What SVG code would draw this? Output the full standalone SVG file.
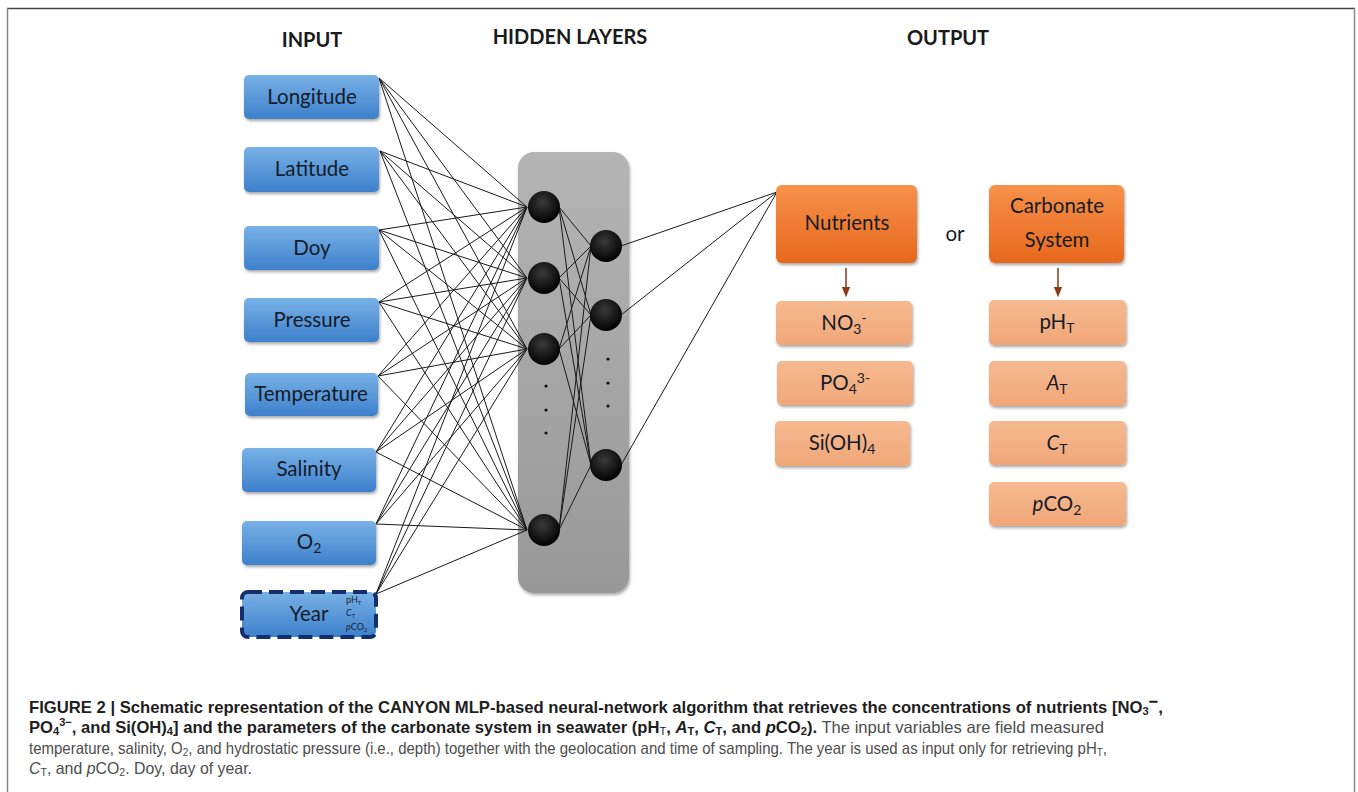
<svg xmlns="http://www.w3.org/2000/svg" width="1358" height="792" viewBox="0 0 1358 792">
<defs>
<linearGradient id="gBlue" x1="0" y1="0" x2="0" y2="1"><stop offset="0" stop-color="#78b1e6"/><stop offset="1" stop-color="#3d80cc"/></linearGradient>
<linearGradient id="gOrange" x1="0" y1="0" x2="0" y2="1"><stop offset="0" stop-color="#f6914a"/><stop offset="1" stop-color="#e8681c"/></linearGradient>
<linearGradient id="gPeach" x1="0" y1="0" x2="0" y2="1"><stop offset="0" stop-color="#f6b990"/><stop offset="1" stop-color="#f0a778"/></linearGradient>
<linearGradient id="gGray" x1="0" y1="0" x2="0" y2="1"><stop offset="0" stop-color="#b4b4b4"/><stop offset="1" stop-color="#989898"/></linearGradient>
<radialGradient id="gNode" cx="0.45" cy="0.35" r="0.65"><stop offset="0" stop-color="#3a3a3a"/><stop offset="1" stop-color="#000"/></radialGradient>
<filter id="sh" x="-10%" y="-10%" width="125%" height="135%"><feDropShadow dx="1" dy="2" stdDeviation="1.5" flood-color="#000" flood-opacity="0.35"/></filter>
<marker id="arr" viewBox="0 0 10 10" refX="5" refY="5" markerWidth="7" markerHeight="7" orient="auto"><path d="M0,1 L10,5 L0,9 z" fill="#8b3a14"/></marker>
</defs>
<style>
.frameT{stroke:#444;stroke-width:1.5}
.frameS{stroke:#888;stroke-width:1.5}
.hdr{font-family:Lato,"Open Sans",sans-serif;font-weight:bold;font-size:20px;fill:#1a1a1a;text-anchor:middle}
.inbox{fill:url(#gBlue);filter:url(#sh)}
.lbl{font-family:Lato,"Open Sans",sans-serif;font-size:20.5px;fill:#151c29;text-anchor:middle}
.obox{fill:url(#gOrange);filter:url(#sh)}
.pbox{fill:url(#gPeach);filter:url(#sh)}
.conn line{stroke:#1a1a1a;stroke-width:1}
.node{fill:url(#gNode)}
.dot{fill:#111}
.cap{font-family:"Liberation Sans",Arial,sans-serif;font-size:16.5px}
.b{font-weight:bold;fill:#1e1e1e}
.r{fill:#4d4d4d}
</style>
<rect width="1358" height="792" fill="#fff"/>
<line class="frameT" x1="7" y1="8.5" x2="1355" y2="8.5"/>
<line class="frameS" x1="7.5" y1="8" x2="7.5" y2="792"/>
<line class="frameS" x1="1354.5" y1="8" x2="1354.5" y2="792"/>

<text class="hdr" x="312" y="47">INPUT</text>
<text class="hdr" x="570" y="44">HIDDEN LAYERS</text>
<text class="hdr" x="948" y="45">OUTPUT</text>

<g id="hidden-panel"><rect x="518" y="152" width="111" height="441" rx="16" fill="url(#gGray)" filter="url(#sh)"/></g>

<g id="connectors" class="conn">
<line x1="379" y1="78" x2="527" y2="207"/><line x1="379" y1="78" x2="527" y2="278"/><line x1="379" y1="78" x2="527" y2="349"/><line x1="379" y1="78" x2="527" y2="530"/>
<line x1="380" y1="151" x2="527" y2="207"/><line x1="380" y1="151" x2="527" y2="278"/><line x1="380" y1="151" x2="527" y2="349"/><line x1="380" y1="151" x2="527" y2="530"/>
<line x1="379" y1="230" x2="527" y2="207"/><line x1="379" y1="230" x2="527" y2="278"/><line x1="379" y1="230" x2="527" y2="349"/><line x1="379" y1="230" x2="527" y2="530"/>
<line x1="379" y1="302" x2="527" y2="207"/><line x1="379" y1="302" x2="527" y2="278"/><line x1="379" y1="302" x2="527" y2="349"/><line x1="379" y1="302" x2="527" y2="530"/>
<line x1="378" y1="376" x2="527" y2="207"/><line x1="378" y1="376" x2="527" y2="278"/><line x1="378" y1="376" x2="527" y2="349"/><line x1="378" y1="376" x2="527" y2="530"/>
<line x1="376" y1="452" x2="527" y2="207"/><line x1="376" y1="452" x2="527" y2="278"/><line x1="376" y1="452" x2="527" y2="349"/><line x1="376" y1="452" x2="527" y2="530"/>
<line x1="376" y1="524" x2="527" y2="207"/><line x1="376" y1="524" x2="527" y2="278"/><line x1="376" y1="524" x2="527" y2="349"/><line x1="376" y1="524" x2="527" y2="530"/>
<line x1="376" y1="594" x2="527" y2="207"/><line x1="376" y1="594" x2="527" y2="278"/><line x1="376" y1="594" x2="527" y2="349"/><line x1="376" y1="594" x2="527" y2="530"/>
<line x1="559" y1="207" x2="591" y2="246"/><line x1="559" y1="207" x2="591" y2="315"/><line x1="559" y1="207" x2="591" y2="465"/>
<line x1="559" y1="278" x2="591" y2="246"/><line x1="559" y1="278" x2="591" y2="315"/><line x1="559" y1="278" x2="591" y2="465"/>
<line x1="559" y1="349" x2="591" y2="246"/><line x1="559" y1="349" x2="591" y2="315"/><line x1="559" y1="349" x2="591" y2="465"/>
<line x1="559" y1="530" x2="591" y2="246"/><line x1="559" y1="530" x2="591" y2="315"/><line x1="559" y1="530" x2="591" y2="465"/>
<line x1="621" y1="246" x2="777" y2="192"/><line x1="621" y1="315" x2="777" y2="192"/><line x1="621" y1="465" x2="777" y2="192"/>
<line x1="846" y1="268" x2="846" y2="292" style="stroke:#8b3a14;stroke-width:1.5" marker-end="url(#arr)"/>
<line x1="1058" y1="268" x2="1058" y2="292" style="stroke:#8b3a14;stroke-width:1.5" marker-end="url(#arr)"/>
</g>

<g id="in-longitude"><rect class="inbox" x="244" y="75" width="135" height="44" rx="5"/><text class="lbl" x="312" y="104">Longitude</text></g>
<g id="in-latitude"><rect class="inbox" x="244" y="147" width="135" height="45" rx="5"/><text class="lbl" x="312" y="176">Latitude</text></g>
<g id="in-doy"><rect class="inbox" x="244" y="226" width="135" height="44" rx="5"/><text class="lbl" x="312" y="255">Doy</text></g>
<g id="in-pressure"><rect class="inbox" x="244" y="298" width="135" height="44" rx="5"/><text class="lbl" x="312" y="327">Pressure</text></g>
<g id="in-temperature"><rect class="inbox" x="245" y="373" width="133" height="43" rx="5"/><text class="lbl" x="311" y="401">Temperature</text></g>
<g id="in-salinity"><rect class="inbox" x="242" y="448" width="134" height="44" rx="5"/><text class="lbl" x="309" y="476">Salinity</text></g>
<g id="in-o2"><rect class="inbox" x="242" y="521" width="134" height="44" rx="5"/><text class="lbl" x="309" y="549">O<tspan font-size="14" dy="4">2</tspan></text></g>
<g id="in-year"><rect x="242" y="592" width="134" height="45" rx="6" fill="url(#gBlue)" stroke="#152f6e" stroke-width="4" stroke-dasharray="14 7"/>
<text class="lbl" x="309" y="621">Year</text>
<text x="346" y="603" style="font-family:Lato,sans-serif;font-size:9px;fill:#1c2433">pH<tspan font-size="6" dy="2">T</tspan></text>
<text x="346" y="616" style="font-family:Lato,sans-serif;font-size:9px;fill:#1c2433;font-style:italic">C<tspan font-size="6" dy="2" font-style="normal">T</tspan></text>
<text x="346" y="630" style="font-family:Lato,sans-serif;font-size:9px;fill:#1c2433"><tspan font-style="italic">p</tspan>CO<tspan font-size="6" dy="2">2</tspan></text></g>

<g id="h1-1"><circle class="node" cx="544" cy="207" r="16"/></g>
<g id="h1-2"><circle class="node" cx="544" cy="278" r="16"/></g>
<g id="h1-3"><circle class="node" cx="544" cy="349" r="16"/></g>
<g id="h1-4"><circle class="node" cx="544" cy="530" r="16"/></g>
<g id="h1-dots"><circle class="dot" cx="546" cy="386" r="1.6"/><circle class="dot" cx="546" cy="410" r="1.6"/><circle class="dot" cx="546" cy="433" r="1.6"/></g>
<g id="h2-1"><circle class="node" cx="606" cy="246" r="16"/></g>
<g id="h2-2"><circle class="node" cx="606" cy="315" r="16"/></g>
<g id="h2-3"><circle class="node" cx="606" cy="465" r="16"/></g>
<g id="h2-dots"><circle class="dot" cx="608" cy="359" r="1.6"/><circle class="dot" cx="608" cy="383" r="1.6"/><circle class="dot" cx="608" cy="406" r="1.6"/></g>

<g id="out-nutrients"><rect class="obox" x="776" y="185" width="141" height="78" rx="6"/><text class="lbl" x="847" y="230">Nutrients</text></g>
<text class="lbl" x="955" y="241">or</text>
<g id="out-carbonate"><rect class="obox" x="989" y="185" width="135" height="78" rx="6"/><text class="lbl" x="1057" y="213">Carbonate</text><text class="lbl" x="1057" y="247">System</text></g>

<g id="o-no3"><rect class="pbox" x="776" y="301" width="136" height="44" rx="5"/><text class="lbl" x="844" y="330">NO<tspan font-size="14" dy="4">3</tspan><tspan font-size="14" dy="-11">-</tspan></text></g>
<g id="o-po4"><rect class="pbox" x="777" y="361" width="136" height="44" rx="5"/><text class="lbl" x="845" y="390">PO<tspan font-size="14" dy="4">4</tspan><tspan font-size="14" dy="-11">3-</tspan></text></g>
<g id="o-sioh4"><rect class="pbox" x="775" y="421" width="135" height="45" rx="5"/><text class="lbl" x="842" y="450">Si(OH)<tspan font-size="14" dy="4">4</tspan></text></g>
<g id="o-ph"><rect class="pbox" x="989" y="300" width="137" height="45" rx="5"/><text class="lbl" x="1057" y="329">pH<tspan font-size="14" dy="4">T</tspan></text></g>
<g id="o-at"><rect class="pbox" x="989" y="361" width="137" height="45" rx="5"/><text class="lbl" x="1057" y="390"><tspan font-style="italic">A</tspan><tspan font-size="14" dy="4">T</tspan></text></g>
<g id="o-ct"><rect class="pbox" x="989" y="421" width="137" height="44" rx="5"/><text class="lbl" x="1057" y="450"><tspan font-style="italic">C</tspan><tspan font-size="14" dy="4">T</tspan></text></g>
<g id="o-pco2"><rect class="pbox" x="989" y="482" width="137" height="44" rx="5"/><text class="lbl" x="1057" y="511"><tspan font-style="italic">p</tspan>CO<tspan font-size="14" dy="4">2</tspan></text></g>

<g id="caption" class="cap">
<text x="29" y="712.5" class="b" textLength="1134" lengthAdjust="spacingAndGlyphs">FIGURE 2 | Schematic representation of the CANYON MLP-based neural-network algorithm that retrieves the concentrations of nutrients [NO<tspan font-size="11" dy="2">3</tspan><tspan dy="-8">−</tspan><tspan dy="6">,</tspan></text>
<text x="29" y="733" textLength="1075" lengthAdjust="spacingAndGlyphs"><tspan class="b">PO<tspan font-size="11" dy="2">4</tspan><tspan font-size="11" dy="-9">3−</tspan><tspan dy="7">, and Si(OH)</tspan><tspan font-size="11" dy="2">4</tspan><tspan dy="-2">] and the parameters of the carbonate system in seawater (pH</tspan><tspan font-size="11" dy="2" font-weight="normal">T</tspan><tspan dy="-2">, </tspan><tspan font-style="italic">A</tspan><tspan font-size="11" dy="2">T</tspan><tspan dy="-2">, </tspan><tspan font-style="italic">C</tspan><tspan font-size="11" dy="2">T</tspan><tspan dy="-2">, and </tspan><tspan font-style="italic">p</tspan>CO<tspan font-size="11" dy="2">2</tspan><tspan dy="-2">).</tspan></tspan><tspan class="r"> The input variables are field measured</tspan></text>
<text x="29" y="754" class="r" textLength="1078" lengthAdjust="spacingAndGlyphs">temperature, salinity, O<tspan font-size="11" dy="2">2</tspan><tspan dy="-2">, and hydrostatic pressure (i.e., depth) together with the geolocation and time of sampling. The year is used as input only for retrieving pH</tspan><tspan font-size="11" dy="2">T</tspan><tspan dy="-2">,</tspan></text>
<text x="29" y="773.5" class="r" textLength="223" lengthAdjust="spacingAndGlyphs"><tspan font-style="italic">C</tspan><tspan font-size="11" dy="2">T</tspan><tspan dy="-2">, and </tspan><tspan font-style="italic">p</tspan>CO<tspan font-size="11" dy="2">2</tspan><tspan dy="-2">. Doy, day of year.</tspan></text>
</g>
</svg>
